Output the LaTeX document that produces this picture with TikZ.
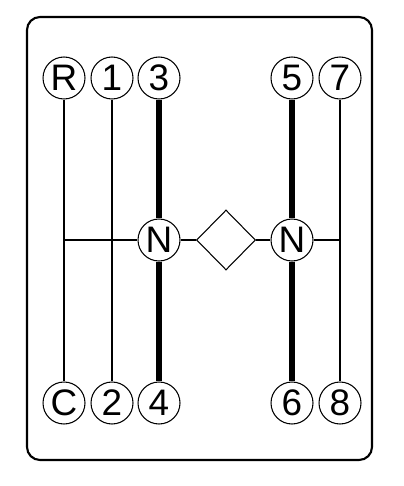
\documentclass[tikz,border=0pt]{standalone}
\usepackage{fontspec}
\setmainfont{Liberation Sans}
\usetikzlibrary{shapes.geometric}

\begin{document}
\begin{tikzpicture}[x=0.02cm, y=-0.02cm,
    gear/.style={circle, draw, line width=0.6pt, fill=white, minimum size=0.84cm, inner sep=0pt, font=\fontsize{21}{21}\selectfont},
    thinrod/.style={line width=1.1pt},
    thickrod/.style={line width=3.2pt}]
                \useasboundingbox (0, 0) rectangle (404, 486);
                % Frame:
                \draw[line width=1.2pt, rounded corners=0.26cm] (27, 17) rectangle (372, 460);
                % Gear positions:
                \node[gear] (R) at (64, 78) {R};
                \node[gear] (g1) at (112, 78) {1};
                \node[gear] (g3) at (159, 78) {3};
                \node[gear] (g5) at (292, 78) {5};
                \node[gear] (g7) at (340, 78) {7};
                \node[gear] (C) at (64, 403) {C};
                \node[gear] (g2) at (112, 403) {2};
                \node[gear] (g4) at (159, 403) {4};
                \node[gear] (g6) at (292, 403) {6};
                \node[gear] (g8) at (340, 403) {8};
                \node[gear] (nl) at (159, 240) {N};
                \node[gear] (nr) at (292, 240) {N};
                \node[diamond, draw, line width=0.6pt, inner sep=0pt, minimum width=1.18cm, minimum height=1.2cm] (dia) at (226, 240) {};
                \coordinate (lend) at (R |- nl);
                \coordinate (rend) at (g7 |- nr);
                % Rods:
                \draw[thinrod] (R) -- (C);
                \draw[thinrod] (g1) -- (g2);
                \draw[thinrod] (g7) -- (g8);
                \draw[thickrod] (g3) -- (nl);
                \draw[thickrod] (nl) -- (g4);
                \draw[thickrod] (g5) -- (nr);
                \draw[thickrod] (nr) -- (g6);
                \draw[thinrod] (lend) -- (nl);
                \draw[thinrod] (nl) -- (dia.west);
                \draw[thinrod] (dia.east) -- (nr);
                \draw[thinrod] (nr) -- (rend);
            \end{tikzpicture}
\end{document}
